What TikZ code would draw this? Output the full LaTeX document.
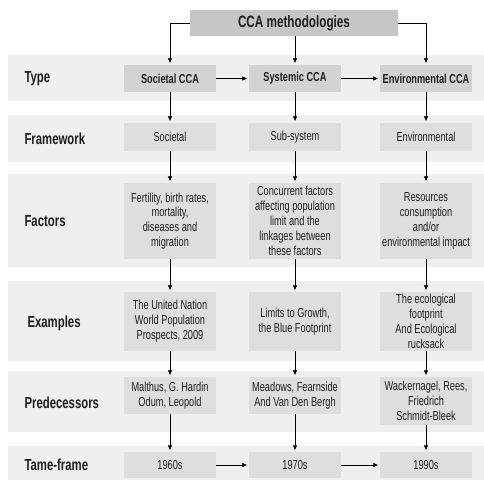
\documentclass[tikz,border=0pt]{standalone}
\usepackage{fontspec}
\setmainfont[FakeStretch=0.71]{Liberation Sans}
\usetikzlibrary{arrows.meta}
\definecolor{bandgray}{HTML}{EFEFEF}
\definecolor{boxgray}{HTML}{DEDEDE}
\definecolor{typegray}{HTML}{D3D3D3}
\definecolor{headgray}{HTML}{C6C6C6}
\definecolor{inkgray}{HTML}{1E1E1E}
\begin{document}
\begin{tikzpicture}[x=1pt, y=-1pt,
  cell/.style = {fill=boxgray, minimum width=92pt, inner sep=0pt, align=center,
                 text=inkgray, font=\fontsize{13}{14.9}\selectfont},
  typecell/.style = {cell, fill=typegray, minimum height=27pt, font=\fontsize{13}{14.9}\selectfont\bfseries},
  rowlabel/.style = {anchor=west, text=inkgray, font=\fontsize{16}{18}\selectfont\bfseries},
  arr/.style = {-{Latex[length=5pt,width=4.5pt]}, line width=0.7pt, shorten >=1.5pt}]
\useasboundingbox (0,0) rectangle (484,481);

% row bands
\fill [bandgray] (8,55) rectangle (484,101);
\fill [bandgray] (8,115) rectangle (484,162);
\fill [bandgray] (8,174) rectangle (484,267);
\fill [bandgray] (8,281) rectangle (484,361);
\fill [bandgray] (8,371) rectangle (484,432);
\fill [bandgray] (8,446) rectangle (484,480);

% row labels
\node [rowlabel] at (21,79) {Type};
\node [rowlabel] at (21,139) {Framework};
\node [rowlabel] at (21,221) {Factors};
\node [rowlabel] at (24,323) {Examples};
\node [rowlabel] at (21,403) {Predecessors};
\node [rowlabel] at (21,465) {Tame-frame};

% title
\node (title) [fill=headgray, minimum width=208pt, minimum height=26pt, inner sep=0pt,
  text=inkgray, font=\fontsize{16.5}{18}\selectfont\bfseries] at (294,23) {CCA methodologies};

% boxes
\node (type1) [typecell] at (170,78.5) {Societal CCA};
\node (type2) [typecell] at (295,78.5) {Systemic CCA};
\node (type3) [typecell] at (426,78.5) {Environmental CCA};

\node (frame1) [cell, minimum height=28pt] at (170,137) {Societal};
\node (frame2) [cell, minimum height=28pt] at (295,137) {Sub-system};
\node (frame3) [cell, minimum height=28pt] at (426,137) {Environmental};

\node (fact1) [cell, minimum height=76pt] at (170,221) {Fertility, birth rates,\\mortality,\\diseases and\\migration};
\node (fact2) [cell, minimum height=76pt] at (295,221) {Concurrent factors\\affecting population\\limit and the\\linkages between\\these factors};
\node (fact3) [cell, minimum height=76pt] at (426,221) {Resources\\consumption\\and/or\\environmental impact};

\node (ex1) [cell, minimum height=59pt] at (170,321.5) {The United Nation\\World Population\\Prospects, 2009};
\node (ex2) [cell, minimum height=59pt] at (295,321.5) {Limits to Growth,\\the Blue Footprint};
\node (ex3) [cell, minimum height=59pt] at (426,321.5) {The ecological\\footprint\\And Ecological\\rucksack};

\node (pred1) [cell, minimum height=37pt] at (170,395.5) {Malthus, G. Hardin\\Odum, Leopold};
\node (pred2) [cell, minimum height=37pt] at (295,395.5) {Meadows, Fearnside\\And Van Den Bergh};
\node (pred3) [cell, minimum height=48pt] at (426,401) {Wackernagel, Rees,\\Friedrich\\Schmidt-Bleek};

\node (time1) [cell, minimum height=26pt] at (170,465) {1960s};
\node (time2) [cell, minimum height=26pt] at (295,465) {1970s};
\node (time3) [cell, minimum height=26pt] at (426,465) {1990s};

% connectors
\draw [arr] (title.west) -| (type1.north);
\draw [arr] (title.south -| type2.north) -- (type2.north);
\draw [arr] (title.east) -| (type3.north);

\foreach \c in {1,2,3}
  \foreach \a/\b in {type/frame, frame/fact, fact/ex, ex/pred, pred/time}
    \draw [arr] (\a\c) -- (\b\c);

\draw [arr] (type1) -- (type2);
\draw [arr] (type2) -- (type3);
\draw [arr] (time1) -- (time2);
\draw [arr] (time2) -- (time3);
\end{tikzpicture}
\end{document}
